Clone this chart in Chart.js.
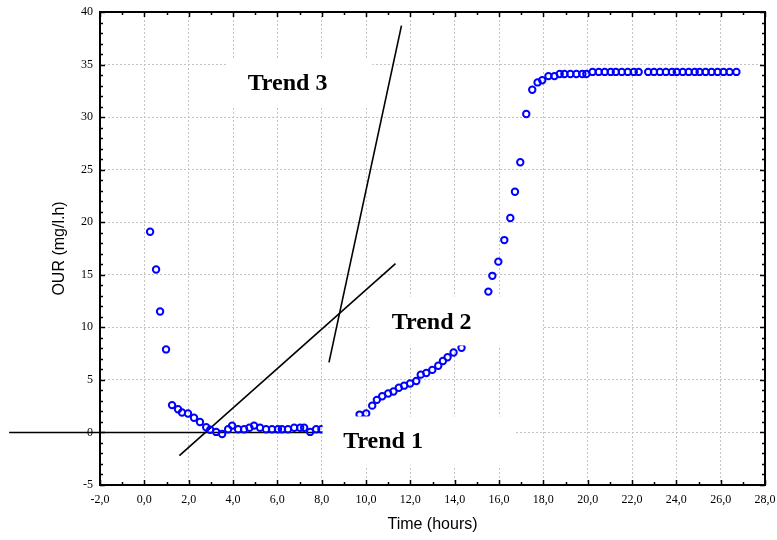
<!DOCTYPE html>
<html>
<head>
<meta charset="utf-8">
<script src="https://cdn.jsdelivr.net/npm/chart.js@4"></script>
<style>
  html, body { margin: 0; padding: 0; background: #fff; }
  #wrap { width: 777px; height: 540px; }
</style>
</head>
<body>
<div id="wrap"><canvas id="chart-canvas" width="777" height="540"></canvas></div>
<script>
// measured OUR values (mg/l.h) against time (hours)
const timeHours = [
  0.26, 0.53, 0.71, 0.98, 1.25, 1.52, 1.70, 1.97, 2.24, 2.51, 2.79, 2.97, 3.24, 3.51, 3.78, 3.96,
  4.23, 4.50, 4.74, 4.95, 5.22, 5.49, 5.76, 6.03, 6.21, 6.48, 6.76, 7.03, 7.21, 7.48, 7.75, 7.99,
  9.71, 10.01, 10.28, 10.49, 10.73, 11.00, 11.24, 11.48, 11.72, 11.99, 12.27, 12.47, 12.72, 12.99,
  13.26, 13.47, 13.68, 13.95, 14.31,
  15.52, 15.70, 15.97, 16.24, 16.51, 16.72, 16.96, 17.23, 17.50, 17.74, 17.95, 18.23, 18.50, 18.74,
  18.95, 19.22, 19.49, 19.76, 19.94,
  20.22, 20.50, 20.77, 21.04, 21.27, 21.54, 21.81, 22.08, 22.30,
  22.73, 22.99, 23.26, 23.53, 23.80, 24.02, 24.29, 24.56, 24.83, 25.05, 25.32, 25.59, 25.86,
  26.13, 26.40, 26.71
];
const ourValues = [
  19.1, 15.5, 11.5, 7.9, 2.6, 2.2, 1.9, 1.8, 1.4, 1.0, 0.5, 0.25, 0.05, -0.15, 0.3, 0.65,
  0.3, 0.3, 0.45, 0.65, 0.45, 0.3, 0.3, 0.3, 0.3, 0.3, 0.45, 0.45, 0.45, 0.05, 0.3, 0.3,
  1.7, 1.8, 2.55, 3.1, 3.45, 3.7, 3.9, 4.25, 4.45, 4.65, 4.9, 5.5, 5.65, 5.95,
  6.35, 6.8, 7.15, 7.6, 8.05,
  13.4, 14.9, 16.25, 18.3, 20.4, 22.9, 25.7, 30.3, 32.6, 33.3, 33.5, 33.9, 33.9, 34.1,
  34.1, 34.1, 34.1, 34.1, 34.1,
  34.3, 34.3, 34.3, 34.3, 34.3, 34.3, 34.3, 34.3, 34.3,
  34.3, 34.3, 34.3, 34.3, 34.3, 34.3, 34.3, 34.3, 34.3, 34.3, 34.3, 34.3, 34.3,
  34.3, 34.3, 34.3
];

// hand-drawn trend lines, end points in data units
const trendNames = ['Trend 1', 'Trend 2', 'Trend 3'];
const trendStartX = [-6.1, 1.58, 8.33];
const trendStartY = [0, -2.2, 6.66];
const trendEndX = [16.8, 11.33, 11.6];
const trendEndY = [0, 16.07, 38.7];
const trendLabelX = [10.77, 12.96, 6.46];
const trendLabelY = [-0.86, 10.46, 33.2];

// white boxes behind the trend labels: [xFrom, xTo, yTop, yBottom] in data units
const labelBoxes = [
  [8.04, 16.8, 1.52, -3.14],
  [10.16, 17.92, 12.93, 8.27],
  [3.70, 10.29, 35.55, 31.08]
];

const xMin = -2, xMax = 28, xStep = 2;
const yMin = -5, yMax = 40, yStep = 5;

const serif = "'Liberation Serif', 'Times New Roman', serif";
const sans = "'Liberation Sans', Arial, sans-serif";

const points = timeHours.map((t, i) => ({ x: t, y: ourValues[i] }));

const trendSets = trendNames.map((name, i) => ({
  label: name,
  data: [{ x: trendStartX[i], y: trendStartY[i] }, { x: trendEndX[i], y: trendEndY[i] }],
  showLine: true,
  borderColor: '#000',
  borderWidth: 1.6,
  pointRadius: 0,
  clip: false
}));

const overlay = {
  id: 'overlay',
  afterDatasetsDraw(chart) {
    const { ctx, chartArea: a, scales: { x, y } } = chart;
    ctx.save();
    // boxes cover grid and points under the labels
    ctx.fillStyle = '#fff';
    labelBoxes.forEach(b => {
      const x0 = x.getPixelForValue(b[0]), x1 = x.getPixelForValue(b[1]);
      const y0 = y.getPixelForValue(b[2]), y1 = y.getPixelForValue(b[3]);
      ctx.fillRect(x0, y0, x1 - x0, y1 - y0);
    });
    ctx.fillStyle = '#000';
    ctx.font = 'bold 24px ' + serif;
    ctx.textAlign = 'center';
    ctx.textBaseline = 'middle';
    trendNames.forEach((name, i) => {
      ctx.fillText(name, x.getPixelForValue(trendLabelX[i]), y.getPixelForValue(trendLabelY[i]));
    });

    // frame with inward ticks on all four sides
    ctx.strokeStyle = '#000';
    ctx.lineWidth = 2;
    ctx.strokeRect(a.left, a.top, a.right - a.left, a.bottom - a.top);
    ctx.lineWidth = 1.5;
    ctx.beginPath();
    for (let v = xMin; v <= xMax; v++) {
      const px = Math.round(x.getPixelForValue(v)) + 0.5;
      const len = v % xStep === 0 ? 5 : 3;
      ctx.moveTo(px, a.bottom); ctx.lineTo(px, a.bottom - len);
      ctx.moveTo(px, a.top); ctx.lineTo(px, a.top + len);
    }
    for (let v = yMin; v <= yMax; v++) {
      const py = Math.round(y.getPixelForValue(v)) + 0.5;
      const len = v % yStep === 0 ? 5 : 3;
      ctx.moveTo(a.left, py); ctx.lineTo(a.left + len, py);
      ctx.moveTo(a.right, py); ctx.lineTo(a.right - len, py);
    }
    ctx.stroke();
    ctx.restore();
  }
};

new Chart(document.getElementById('chart-canvas'), {
  type: 'scatter',
  data: {
    datasets: [{
      label: 'OUR',
      data: points,
      pointStyle: 'circle',
      pointRadius: 3.2,
      borderWidth: 2,
      borderColor: '#0000ff',
      backgroundColor: 'rgba(0,0,0,0)'
    }, ...trendSets]
  },
  options: {
    responsive: false,
    animation: false,
    events: [],
    layout: { padding: { left: 0, right: 12, top: 12, bottom: 0 } },
    plugins: { legend: { display: false }, tooltip: { enabled: false } },
    scales: {
      x: {
        type: 'linear',
        min: xMin,
        max: xMax,
        afterFit: s => { s.height = 55; s.paddingLeft = 0; s.paddingRight = 0; },
        grid: { color: '#c4c4c4', lineWidth: 1, drawTicks: false },
        border: { display: false, dash: [2, 2] },
        ticks: {
          stepSize: xStep,
          padding: 8,
          color: '#000',
          font: { family: serif, size: 12 },
          callback: v => v.toFixed(1).replace('.', ',')
        },
        title: {
          display: true,
          text: 'Time (hours)',
          color: '#000',
          font: { family: sans, size: 16 },
          padding: { top: 0, bottom: 6 }
        }
      },
      y: {
        type: 'linear',
        min: yMin,
        max: yMax,
        afterFit: s => { s.width = 100; s.paddingTop = 0; s.paddingBottom = 0; },
        grid: { color: '#c4c4c4', lineWidth: 1, drawTicks: false },
        border: { display: false, dash: [2, 2] },
        ticks: {
          stepSize: yStep,
          padding: 7,
          color: '#000',
          font: { family: serif, size: 12 }
        },
        title: {
          display: true,
          text: 'OUR (mg/l.h)',
          color: '#000',
          font: { family: sans, size: 16 },
          padding: { top: 50, bottom: 0 }
        }
      }
    }
  },
  plugins: [overlay]
});
</script>
</body>
</html>
